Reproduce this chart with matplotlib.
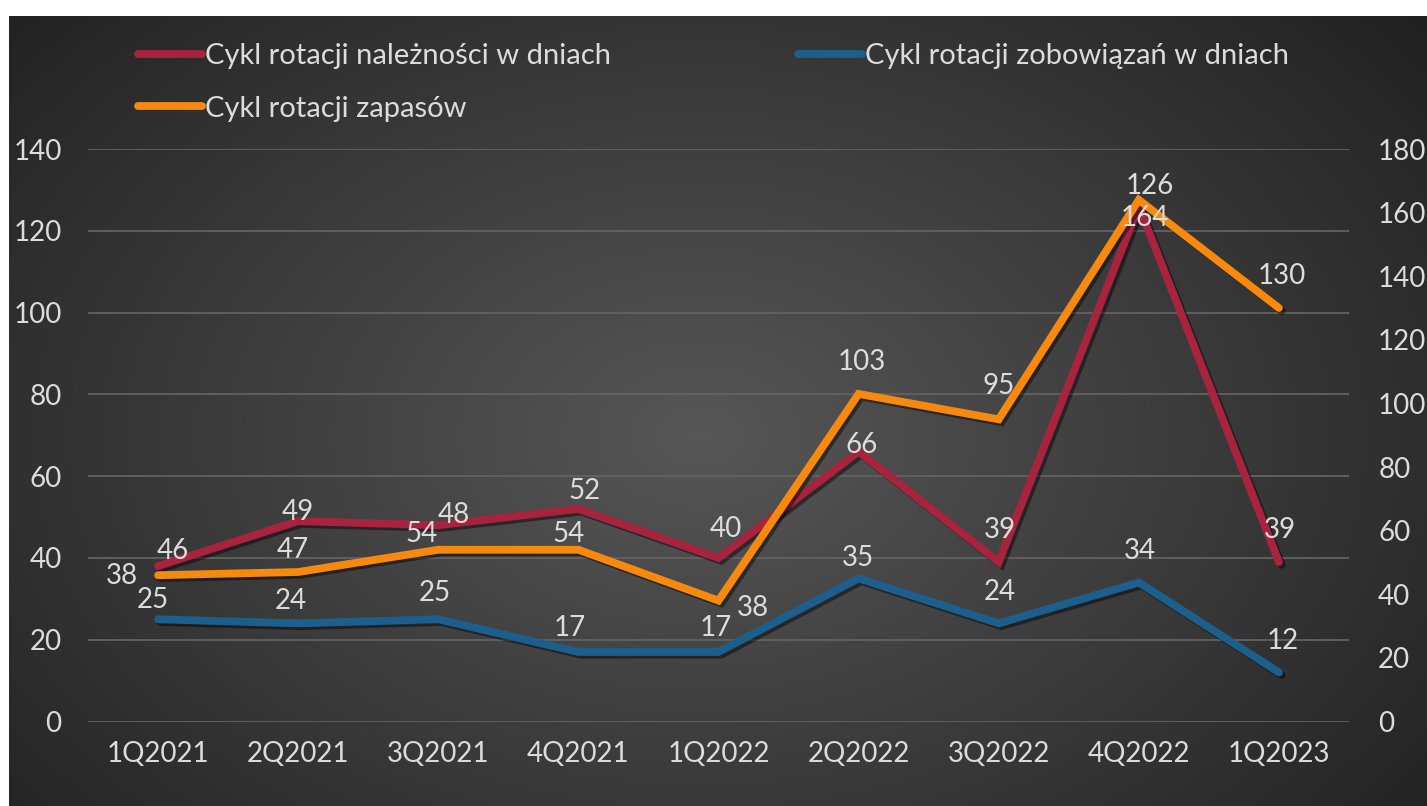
import numpy as np
import matplotlib.pyplot as plt
import matplotlib.patheffects as pe
from matplotlib.lines import Line2D

plt.rcParams['font.family'] = ['Lato', 'DejaVu Sans']

quarters = ['1Q2021', '2Q2021', '3Q2021', '4Q2021', '1Q2022',
            '2Q2022', '3Q2022', '4Q2022', '1Q2023']
naleznosci = [38, 49, 48, 52, 40, 66, 39, 126, 39]
zobowiazania = [25, 24, 25, 17, 17, 35, 24, 34, 12]
zapasy = [46, 47, 54, 54, 38, 103, 95, 164, 130]

# label offsets in pixels (dx, dy up) from each point
off_nal = [(-36, -10), (0, 9), (16, 10), (6, 18), (7, 29), (3, 7), (1, 32), (11, 20), (1, 32)]
off_zob = [(-5, 19), (-7, 22), (-3, 26), (-9, 24), (-3, 24), (-1, 20), (1, 31), (1, 31), (4, 31)]
off_zap = [(15, 24), (-5, 22), (-17, 16), (-10, 16), (34, -7), (3, 32), (0, 33), (6, -18), (3, 32)]

RED = '#a8233d'
BLUE = '#1d5f8c'
ORANGE = '#f7890f'
TXT = '#dcdcdc'
W, H = 1427, 806

fig = plt.figure(figsize=(W / 100, H / 100), dpi=100)
fig.patch.set_facecolor('white')

# dark radial background panel
bg = fig.add_axes([9 / W, 0, 1 - 9 / W, 1 - 16 / H])
yy, xx = np.mgrid[0:790, 0:1418]
r = np.hypot((xx - 690) / 900.0, (yy - 420) / 620.0)
shade = np.clip(0.34 - 0.2 * r, 0.13, 0.34)
bg.imshow(np.dstack([shade] * 3), aspect='auto', interpolation='bilinear')
bg.set_axis_off()

ax = fig.add_axes([88 / W, 84.5 / H, 1261 / W, 572.5 / H])
ax.patch.set_alpha(0)
ax2 = ax.twinx()

x = np.arange(len(quarters))
shadow = [pe.SimpleLineShadow(offset=(2, -2), shadow_color='black', alpha=0.45),
          pe.Normal()]
kw = dict(lw=5.6, solid_capstyle='round', solid_joinstyle='miter', path_effects=shadow)
ax.plot(x, naleznosci, color=RED, zorder=3, **kw)
ax.plot(x, zobowiazania, color=BLUE, zorder=2, **kw)
ax2.plot(x, zapasy, color=ORANGE, zorder=3, **kw)

ax.set_xlim(-0.5, len(quarters) - 0.5)
ax.set_ylim(0, 140)
ax2.set_ylim(0, 180)
ax.set_yticks(np.arange(0, 141, 20))
ax2.set_yticks(np.arange(0, 181, 20))
ax.set_xticks(x)
ax.set_xticklabels(quarters)
ax.yaxis.grid(True, color='#626262', lw=1.3)
ax.set_axisbelow(True)

for a in (ax, ax2):
    for s in a.spines.values():
        s.set_visible(False)
    a.tick_params(length=0, labelsize=20, labelcolor=TXT)
ax.tick_params(axis='y', pad=19)
ax.tick_params(axis='x', pad=14)
ax2.tick_params(axis='y', pad=21)

# value labels, all drawn on the top axes
for vals, offs, tr in ((naleznosci, off_nal, ax.transData),
                       (zobowiazania, off_zob, ax.transData),
                       (zapasy, off_zap, ax2.transData)):
    for i, (v, (dx, dy)) in enumerate(zip(vals, offs)):
        ax2.annotate(str(v), (i, v), xycoords=tr, xytext=(dx, dy),
                     textcoords='offset pixels', ha='center', va='center',
                     fontsize=20, color=TXT, zorder=10)

handles = [Line2D([], [], color=RED, lw=5.6, solid_capstyle='round'),
           Line2D([], [], color=ORANGE, lw=5.6, solid_capstyle='round'),
           Line2D([], [], color=BLUE, lw=5.6, solid_capstyle='round')]
labels = ['Cykl rotacji należności w dniach', 'Cykl rotacji zapasów',
          'Cykl rotacji zobowiązań w dniach']
leg = fig.legend(handles, labels, ncol=2, loc='upper left',
                 bbox_to_anchor=(112 / W, 1 - 17 / H), frameon=False,
                 fontsize=21, handlelength=2.2, handletextpad=0.1,
                 columnspacing=6.4, labelspacing=0.9, labelcolor=TXT)

fig.savefig('out.png', dpi=100, facecolor=fig.get_facecolor())
